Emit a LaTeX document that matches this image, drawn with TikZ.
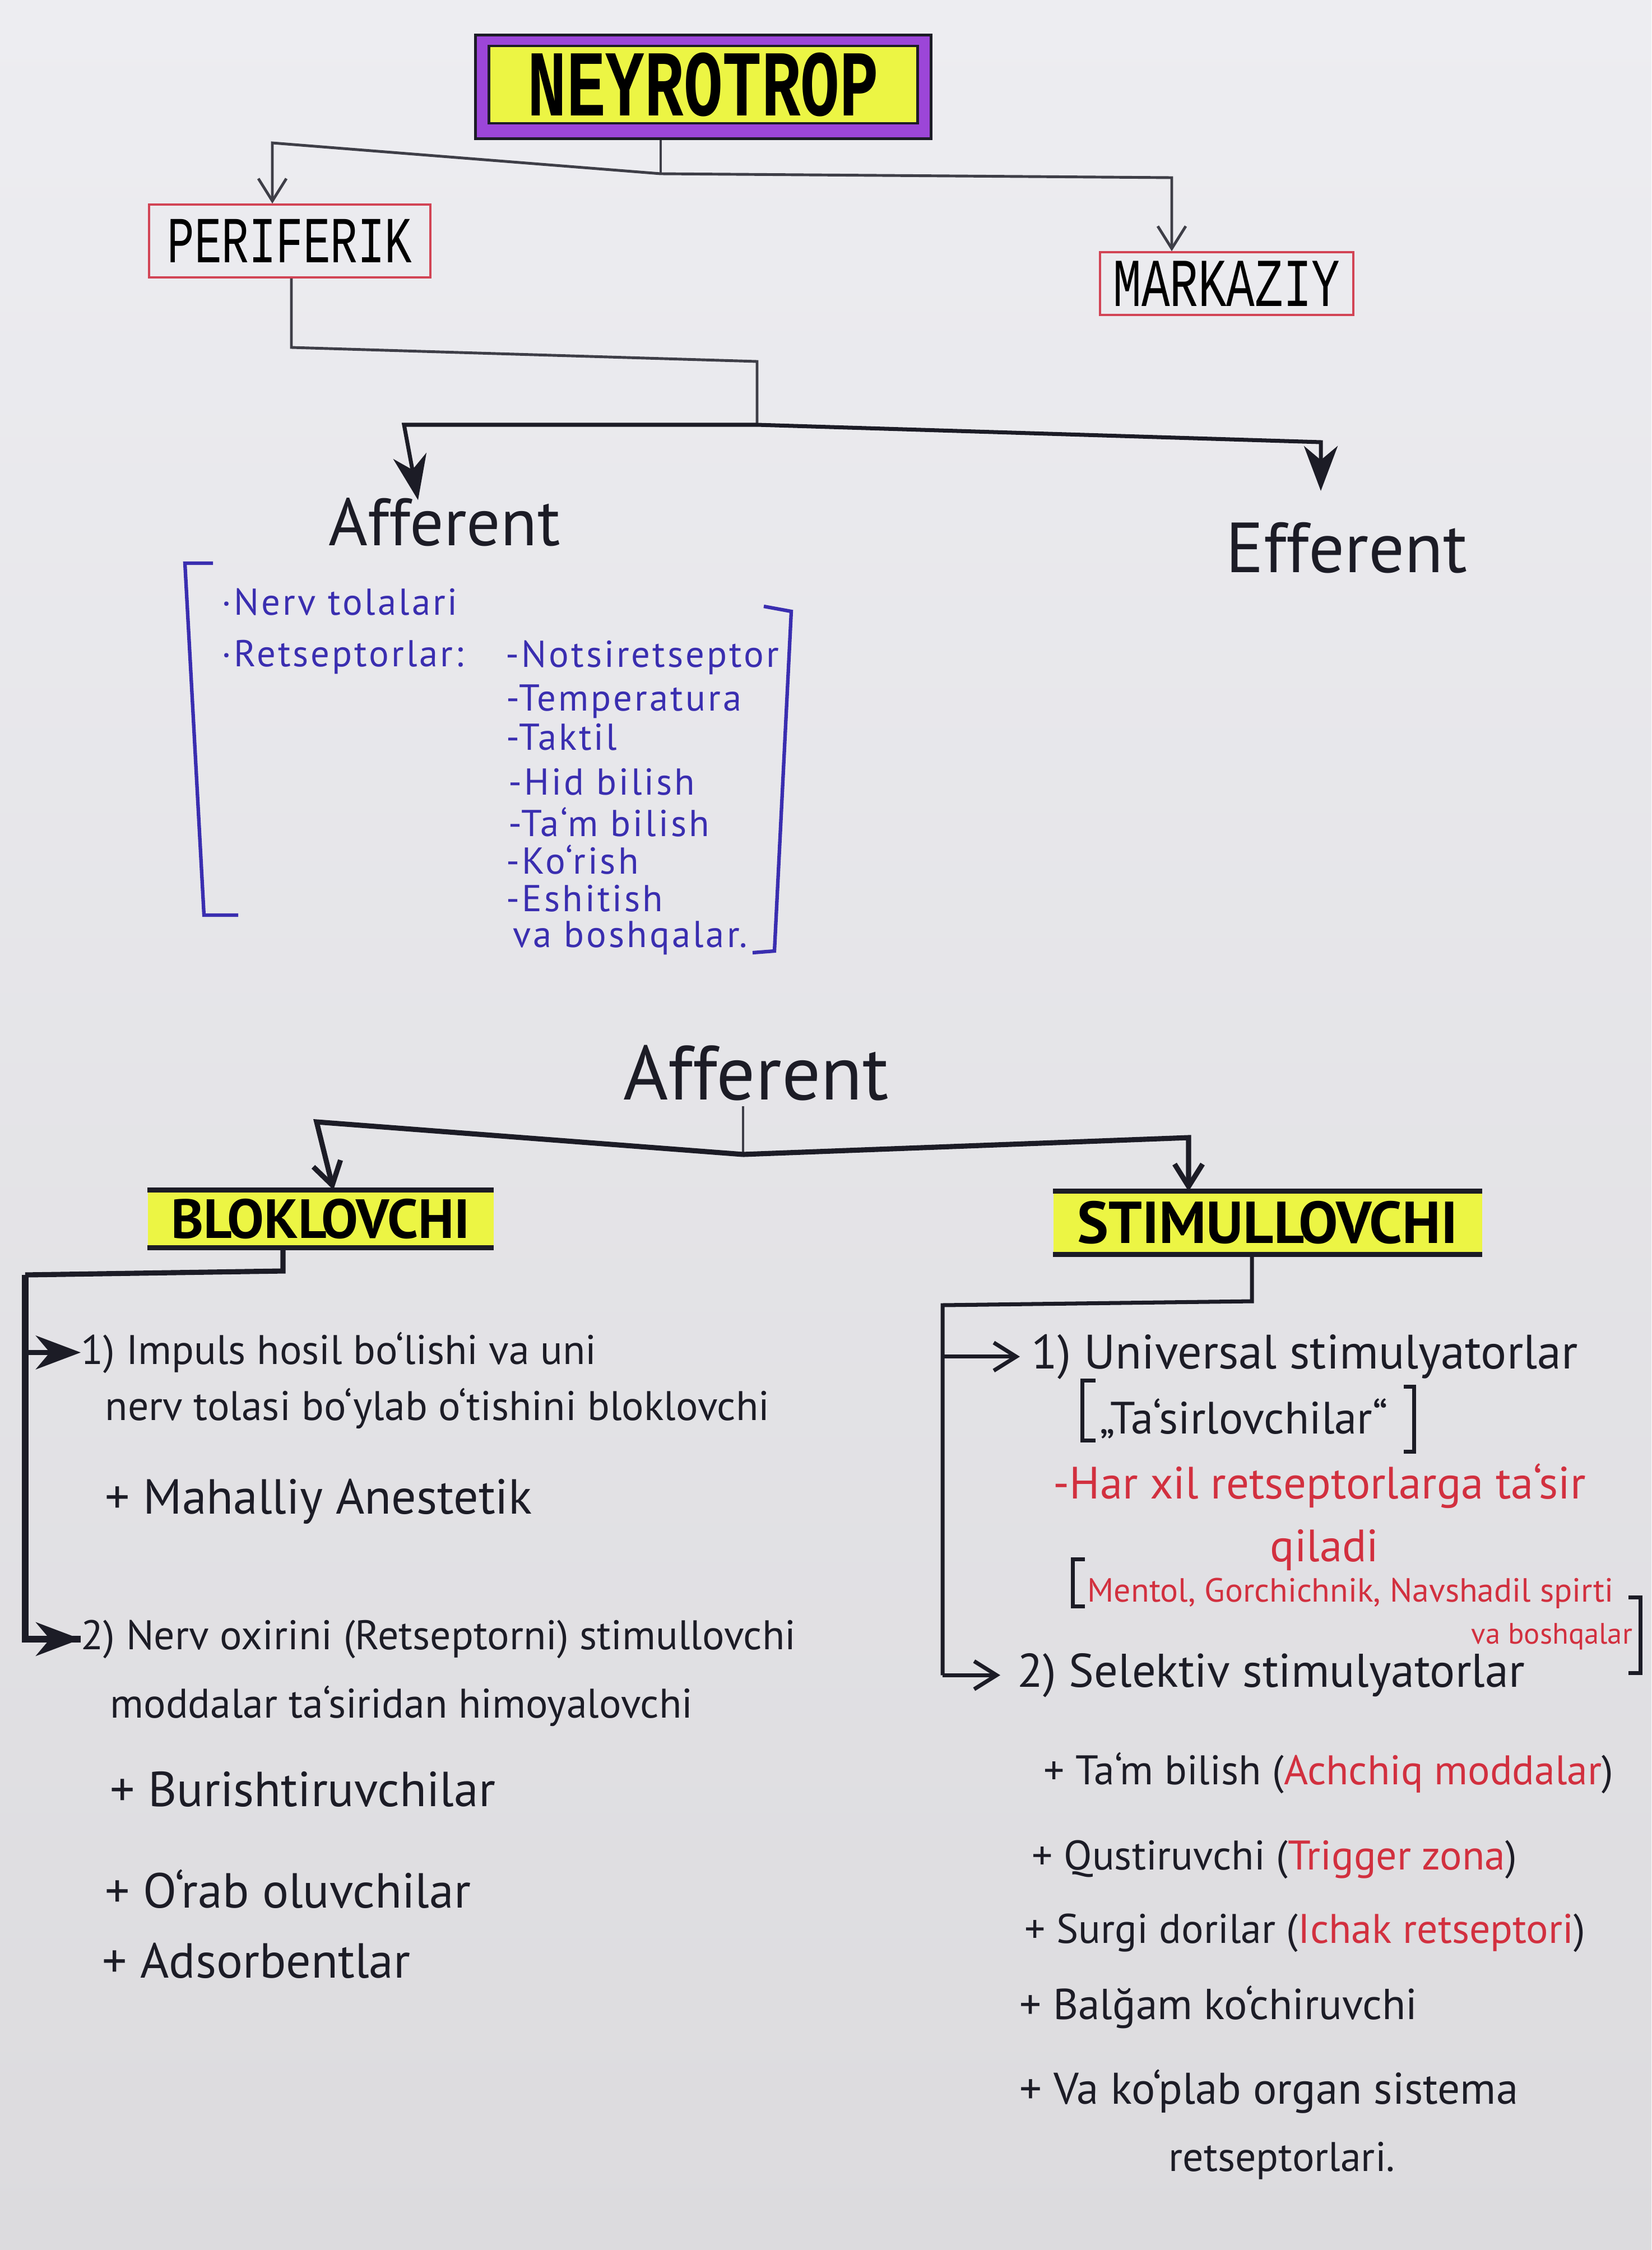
\documentclass[tikz,border=0pt]{standalone}
\usepackage{fontspec}
\setmainfont{PT Sans}
\newfontfamily\typefont{Liberation Mono}
\usepackage{graphicx}
\usetikzlibrary{arrows.meta}
\usetikzlibrary{positioning, calc}
\definecolor{paper}{HTML}{EDEDF1}
\definecolor{paperlow}{HTML}{DCDBDE}
\definecolor{ink}{HTML}{1C1C26}
\definecolor{blueink}{HTML}{3A2EB0}
\definecolor{redink}{HTML}{D2303F}
\definecolor{violetbox}{HTML}{9C46D8}
\definecolor{marker}{HTML}{ECF544}
\definecolor{frame}{HTML}{D24455}

\newcommand{\tallt}[1]{\scalebox{1}[1.45]{#1}}
\newcommand{\rd}[1]{\textcolor{redink}{#1}}

\tikzset{
  thinline/.style={draw=ink!85, line width=1.4pt},
  midline/.style={draw=ink, line width=2pt},
  boldline/.style={draw=ink, line width=2.6pt},
  openarrow/.style={-{Straight Barb[length=4mm,width=5mm]}},
  fillarrow/.style={-{Stealth[length=8mm,width=6mm,inset=2.5mm]}},
  redbox/.style={draw=frame, line width=1pt, inner sep=0pt},
  markbox/.style={fill=marker, inner sep=0pt, font=\bfseries\fontsize{28}{32}\selectfont},
  headtxt/.style={text=ink, anchor=base west, inner sep=0pt},
  bluetxt/.style={text=blueink, font=\fontsize{19}{22}\selectfont\addfontfeature{LetterSpace=6}, anchor=base west, inner sep=0pt},
  bodytxt/.style={text=ink, font=\fontsize{21}{25}\selectfont, anchor=base west, inner sep=0pt},
  plustxt/.style={text=ink, font=\fontsize{25}{29}\selectfont, anchor=base west, inner sep=0pt},
  redtxt/.style={text=redink, font=\fontsize{23}{27}\selectfont, anchor=base west, inner sep=0pt},
}

\begin{document}
\begin{tikzpicture}[x=1cm, y=-1cm]

\shade[top color=paper, bottom color=paperlow] (0,0) rectangle (29.47,40.15);
\useasboundingbox (0,0) rectangle (29.47,40.15);

% title
\node[draw=ink, line width=1.6pt, fill=violetbox, minimum width=8.13cm, minimum height=1.85cm] (neyroframe) at (12.55,1.55) {};
\node[draw=ink, line width=1.2pt, fill=marker, minimum width=7.65cm, minimum height=1.35cm,
      font=\typefont\bfseries\fontsize{33}{36}\selectfont] (neyro) at (12.55,1.51) {\tallt{NEYROTROP}};

\node[redbox, minimum width=5.02cm, minimum height=1.30cm, font=\typefont\fontsize{23}{27}\selectfont] (periferik) at (5.17,4.30) {\tallt{PERIFERIK}};
\node[redbox, minimum width=4.52cm, minimum height=1.12cm, font=\typefont\fontsize{24}{27}\selectfont] (markaziy) at (21.89,5.06) {\tallt{MARKAZIY}};

\coordinate (nj) at (11.79,3.10);
\coordinate (pl) at (4.86,2.55);
\coordinate (pr) at (20.91,3.17);
\draw[thinline] (nj |- neyroframe.south) -- (nj);
\draw[thinline, openarrow] (nj) -- (pl) -- (pl |- periferik.north);
\draw[thinline, openarrow] (nj) -- (pr) -- (pr |- markaziy.north);

% afferent / efferent
\node[headtxt, font=\fontsize{34}{38}\selectfont] (aff) at (5.86,9.73) {Afferent};
\node[headtxt, font=\fontsize{36}{40}\selectfont] (eff) at (21.87,10.21) {Efferent};

\coordinate (q1) at (5.20,6.20);
\coordinate (q2) at (13.51,6.45);
\coordinate (q3) at (13.51,7.58);
\coordinate (ql) at (7.21,7.58);
\coordinate (qr) at (23.57,7.89);
\draw[thinline] (periferik.south -| q1) -- (q1) -- (q2) -- (q3);
\draw[midline, fillarrow] (q3) -- (ql) -- ($(ql |- aff.north)+(0.25,0.05)$);
\draw[midline, fillarrow] (q3) -- (qr) -- ($(qr |- eff.north)+(0,-0.55)$);

% afferent list
\draw[draw=blueink, line width=1.8pt] (3.80,10.05) -- (3.30,10.05) -- (3.64,16.33) -- (4.25,16.33);
\draw[draw=blueink, line width=1.8pt] (13.63,10.82) -- (14.12,10.91) -- (13.82,16.97) -- (13.43,17.00);

\node[bluetxt] (nerv) at (3.95,10.97) {·Nerv tolalari};
\node[bluetxt] (rets) at (3.95,11.89) {·Retseptorlar:};
\node[bluetxt] (r1) at (9.02,11.90) {-Notsiretseptor};
\node[bluetxt] (r2) at (9.03,12.68) {-Temperatura};
\node[bluetxt] (r3) at (9.03,13.38) {-Taktil};
\node[bluetxt] (r4) at (9.07,14.18) {-Hid bilish};
\node[bluetxt] (r5) at (9.07,14.92) {-Ta‘m bilish};
\node[bluetxt] (r6) at (9.03,15.59) {-Ko‘rish};
\node[bluetxt] (r7) at (9.03,16.26) {-Eshitish};
\node[bluetxt] (r8) at (9.15,16.90) {va boshqalar.};

% second afferent
\node[headtxt, font=\fontsize{39}{43}\selectfont] (aff2) at (11.12,19.62) {Afferent};

\node[markbox, minimum width=6.17cm, minimum height=1.02cm] (blok) at (5.72,21.75) {BLOKLOVCHI};
\node[markbox, minimum width=7.65cm, minimum height=1.11cm, font=\bfseries\fontsize{30}{34}\selectfont] (stim) at (22.62,21.82) {STIMULLOVCHI};
\draw[boldline] (blok.north west) -- (blok.north east);
\draw[boldline] (blok.south west) -- (blok.south east);
\draw[boldline] (stim.north west) -- (stim.north east);
\draw[boldline] (stim.south west) -- (stim.south east);

\coordinate (r0) at (13.26,20.60);
\coordinate (rl) at (5.65,20.02);
\coordinate (rr) at (21.21,20.30);
\draw[thinline] ($(aff2.south -| r0)+(0,0.1)$) -- (r0);
\draw[boldline, openarrow] (r0) -- (rl) -- ($(rl |- blok.north)+(0.3,0)$);
\draw[boldline, openarrow] (r0) -- (rr) -- (rr |- stim.north);

% bloklovchi branch
\coordinate (bj) at (5.05,22.68);
\coordinate (bl) at (0.45,22.75);
\node[bodytxt] (b1a) at (1.44,24.34) {1) Impuls hosil bo‘lishi va uni};
\node[bodytxt] (b1b) at (1.87,25.34) {nerv tolasi bo‘ylab o‘tishini bloklovchi};
\node[plustxt] (b1c) at (1.87,27.01) {+ Mahalliy Anestetik};
\node[bodytxt] (b2a) at (1.44,29.43) {2) Nerv oxirini (Retseptorni) stimullovchi};
\node[bodytxt] (b2b) at (1.96,30.65) {moddalar ta‘siridan himoyalovchi};
\node[plustxt] (b2c) at (1.96,32.23) {+ Burishtiruvchilar};
\node[plustxt] (b2d) at (1.87,34.04) {+ O‘rab oluvchilar};
\node[plustxt] (b2e) at (1.82,35.29) {+ Adsorbentlar};

\draw[boldline] (blok.south -| bj) -- (bj) -- (bl);
\draw[draw=ink, line width=3.6pt] (bl) -- (bl |- b2a.west) -- (b2a.west);
\draw[boldline, fillarrow] (bl |- b1a.west) -- (b1a.west);
\draw[boldline, fillarrow] ($(bl |- b2a.west)+(0.2,0)$) -- (b2a.west);

% stimullovchi branch
\coordinate (sj) at (22.34,23.22);
\coordinate (sl) at (16.82,23.29);
\node[bodytxt, font=\fontsize{24.5}{28}\selectfont] (s1a) at (18.40,24.42) {1) Universal stimulyatorlar};
\node[bodytxt, font=\fontsize{23}{27}\selectfont] (s1b) at (19.62,25.58) {„Ta‘sirlovchilar“};
\node[redtxt] (s1c) at (18.79,26.74) {-Har xil retseptorlarga ta‘sir};
\node[redtxt] (s1d) at (22.66,27.86) {qiladi};
\node[redtxt, font=\fontsize{17}{20}\selectfont] (s1e) at (19.40,28.58) {Mentol, Gorchichnik, Navshadil spirti};
\node[redtxt, font=\fontsize{15}{18}\selectfont] (s1f) at (26.25,29.33) {va boshqalar};
\node[bodytxt, font=\fontsize{24}{28}\selectfont] (s2a) at (18.15,30.10) {2) Selektiv stimulyatorlar};
\node[bodytxt, font=\fontsize{21}{25}\selectfont] (s2b) at (18.62,31.84) {+ Ta‘m bilish (\rd{Achchiq moddalar})};
\node[bodytxt, font=\fontsize{21}{25}\selectfont] (s2c) at (18.41,33.36) {+ Qustiruvchi (\rd{Trigger zona})};
\node[bodytxt, font=\fontsize{21}{25}\selectfont] (s2d) at (18.28,34.67) {+ Surgi dorilar (\rd{Ichak retseptori})};
\node[bodytxt, font=\fontsize{22}{26}\selectfont] (s2e) at (18.19,36.03) {+ Balğam ko‘chiruvchi};
\node[bodytxt, font=\fontsize{22.5}{26}\selectfont] (s2f) at (18.19,37.54) {+ Va ko‘plab organ sistema};
\node[bodytxt, font=\fontsize{21}{25}\selectfont] (s2g) at (20.85,38.74) {retseptorlari.};

\draw[midline] (stim.south -| sj) -- (sj) -- (sl) -- (sl |- s2a.west);
\draw[midline, openarrow, shorten >=2mm] (sl |- s1a.west) -- (s1a.west);
\draw[midline, openarrow, shorten >=3mm] (sl |- s2a.west) -- (s2a.west);

% brackets
\draw[draw=ink, line width=2pt] (19.55,24.63) -- (19.31,24.63) -- (19.31,25.70) -- (19.55,25.70);
\draw[draw=ink, line width=2pt] (25.05,24.74) -- (25.23,24.74) -- (25.23,25.90) -- (25.05,25.90);
\draw[draw=ink, line width=2pt] (19.36,27.82) -- (19.14,27.82) -- (19.14,28.66) -- (19.36,28.66);
\draw[draw=ink, line width=2pt] (29.06,28.50) -- (29.27,28.50) -- (29.27,29.85) -- (29.06,29.85);

\end{tikzpicture}
\end{document}
